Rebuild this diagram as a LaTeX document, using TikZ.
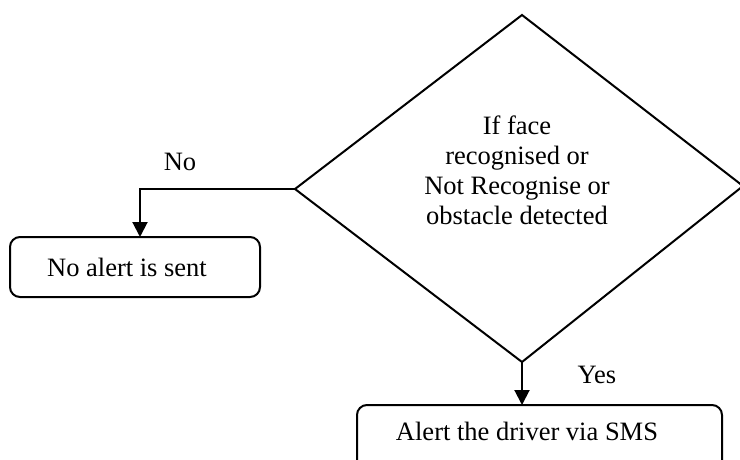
\documentclass[tikz,border=0pt]{standalone}
\usepackage{fontspec}
\setmainfont{Liberation Serif}
\usetikzlibrary{arrows.meta}
\begin{document}
\begin{tikzpicture}[x=1pt,y=-1pt,
  every node/.style={font=\fontsize{26.5}{30}\selectfont, inner sep=0pt},
  boxshape/.style={draw, line width=2pt, rounded corners=10pt},
  flow/.style={line width=2pt, -{Triangle[length=15pt,width=15pt]}},
  edge/.style={line width=2pt}]
\useasboundingbox (0,0) rectangle (740,459);
\clip (0,0) rectangle (740,459);
% decision diamond
\coordinate (dtop) at (522,15);
\coordinate (dleft) at (295,189);
\coordinate (dbot) at (522,362);
\coordinate (dright) at (743,186);
\draw[edge, line join=miter] (dtop) -- (dright) -- (dbot) -- (dleft) -- cycle;
\node[align=center] (cond) at (517,170) {If face\\recognised or\\Not Recognise or\\obstacle detected};
% left box
\node[boxshape, minimum width=250pt, minimum height=60pt] (noalert) at (135,267) {};
\node (noalerttxt) at (127,267) {No alert is sent};
% bottom box
\node[boxshape, minimum width=365pt, minimum height=90pt] (alert) at (539.5,450) {};
\node (alerttxt) at (527,431) {Alert the driver via SMS};
% connectors
\coordinate (bend) at (140,189);
\draw[flow] (dleft) -- (bend) -- (140,237);
\draw[flow] (dbot) -- (522,405);
% labels
\node (no) at (180,162) {No};
\node (yes) at (597,375) {Yes};
\end{tikzpicture}
\end{document}
